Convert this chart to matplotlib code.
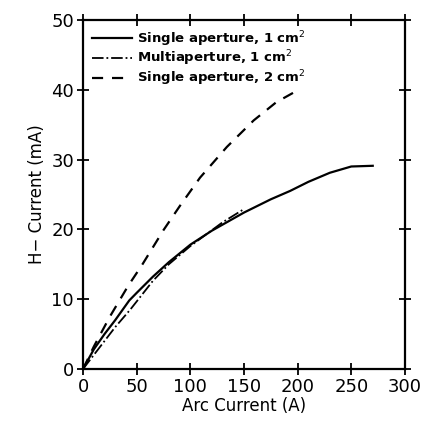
import numpy as np
import matplotlib.pyplot as plt

# Single aperture, 1 cm^2
single1_x = [0, 10, 20, 30, 43, 50, 65, 80, 100, 120, 150, 175, 193, 210, 230, 250, 270]
single1_y = [0, 2.8, 5.0, 7.0, 9.8, 10.9, 13.2, 15.3, 17.8, 19.8, 22.4, 24.3, 25.5, 26.8, 28.1, 29.0, 29.1]

# Multiaperture, 1 cm^2
multi_x = [0, 10, 20, 30, 44, 65, 80, 100, 115, 130, 150]
multi_y = [0, 2.0, 4.0, 6.0, 8.5, 12.6, 15.0, 17.6, 19.3, 21.0, 22.9]

# Single aperture, 2 cm^2
single2_x = [0, 10, 25, 42, 55, 75, 90, 109, 134, 159, 180, 201]
single2_y = [0, 3.2, 7.5, 11.9, 14.9, 19.9, 23.3, 27.4, 31.8, 35.6, 38.2, 40.0]

fig = plt.figure(figsize=(4.24, 4.24), dpi=100)
ax = fig.add_axes([0.196, 0.130, 0.759, 0.823])

ax.plot(single1_x, single1_y, 'k-', lw=1.6, label='Single aperture, 1 cm$^2$')
ax.plot(multi_x, multi_y, 'k-.', lw=1.3, label='Multiaperture, 1 cm$^2$')
ax.plot(single2_x, single2_y, 'k--', lw=1.6, dashes=(5, 4), label='Single aperture, 2 cm$^2$')

ax.set_xlim(0, 300)
ax.set_ylim(0, 50)
ax.set_xticks(np.arange(0, 301, 50))
ax.set_yticks(np.arange(0, 51, 10))
ax.tick_params(direction='inout', length=9, width=1.3, top=True, right=True,
               labelsize=13, pad=2)
for s in ax.spines.values():
    s.set_linewidth(1.6)

ax.set_xlabel('Arc Current (A)', fontsize=12, labelpad=1)
ax.set_ylabel('H\u2212 Current (mA)', fontsize=12, labelpad=4)

leg = ax.legend(loc='upper left', frameon=False, handlelength=3.0,
                handletextpad=0.4, labelspacing=0.0, borderaxespad=0.3,
                prop={'weight': 'bold', 'size': 9.5})

plt.savefig('out.png', dpi=100)
